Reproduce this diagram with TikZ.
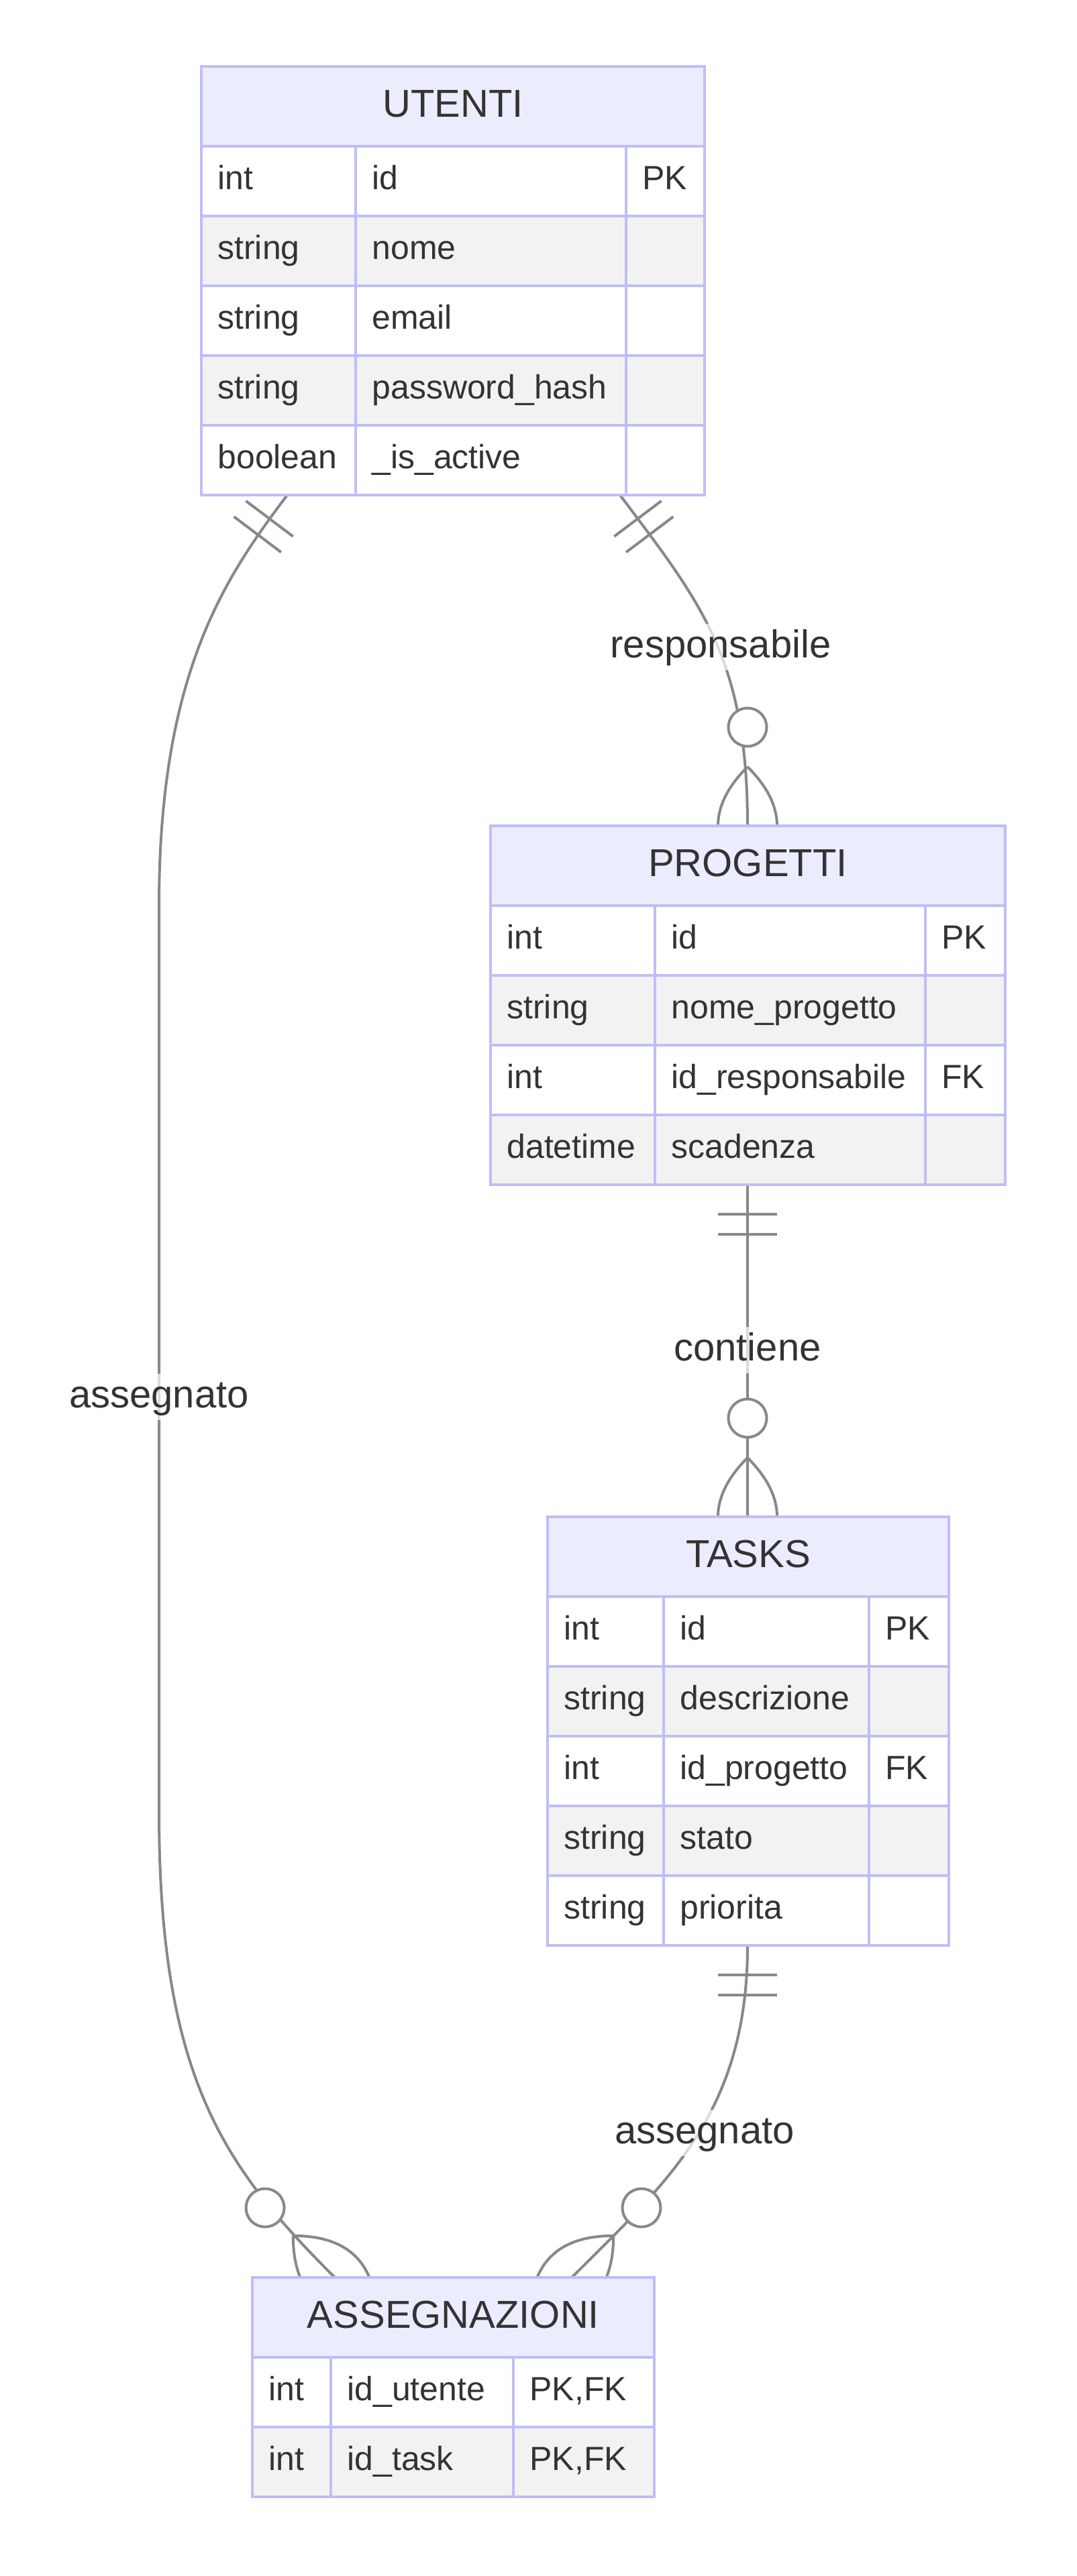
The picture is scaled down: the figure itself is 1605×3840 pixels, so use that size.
\documentclass[tikz,border=0pt]{standalone}
\usepackage{fontspec}
\setmainfont{Liberation Sans}
\usetikzlibrary{calc}

\definecolor{cbordo}{RGB}{190,190,246}
\definecolor{ctesta}{RGB}{236,236,255}
\definecolor{cpari}{RGB}{242,242,242}
\definecolor{clinea}{RGB}{136,136,136}
\definecolor{ctesto}{RGB}{51,51,51}

% 表格: 名字, x, y, 三列宽, 标题, 行
\newcommand{\tabella}[8]{%
  \pgfmathsetmacro{\xb}{#2+#4}
  \pgfmathsetmacro{\xc}{#2+#4+#5}
  \pgfmathsetmacro{\xd}{#2+#4+#5+#6}
  \filldraw[bordo, fill=ctesta] (#2,#3) rectangle (\xd,#3+119);
  \node[titolo] (#1) at ({(#2+\xd)/2},#3+75) {#7};
  \foreach \ti/\no/\ch [count=\i] in {#8} {
    \pgfmathsetmacro{\ry}{#3+119+(\i-1)*104}
    \ifodd\i \def\rf{white}\else\def\rf{cpari}\fi
    \fill[\rf] (#2,\ry) rectangle (\xd,\ry+104);
    \draw[bordo] (#2,\ry) rectangle (\xb,\ry+104)
                 (\xb,\ry) rectangle (\xc,\ry+104)
                 (\xc,\ry) rectangle (\xd,\ry+104);
    \node[campo] (#1-t\i) at (#2+24,\ry+64) {\ti};
    \node[campo] (#1-n\i) at (\xb+24,\ry+64) {\no};
    \node[campo] (#1-k\i) at (\xc+24,\ry+64) {\ch};
  }
}
% 一对一 (两条短线)
\newcommand{\unouno}[2]{%
  \begin{scope}[shift={(#1)}, rotate=#2]
    \draw[rel] (44,-44) -- (44,44) (73.5,-44) -- (73.5,44);
  \end{scope}}
% 零或多 (圆 + 鸦脚)
\newcommand{\zeropiu}[2]{%
  \begin{scope}[shift={(#1)}, rotate=#2]
    \draw[rel] (-88,0) .. controls (-29.3,-58.7) and (29.3,-58.7) .. (88,0)
               .. controls (29.3,58.7) and (-29.3,58.7) .. (-88,0);
    \filldraw[rel, fill=white] (-147,0) circle[radius=28.5];
  \end{scope}}

\begin{document}
\begin{tikzpicture}[x=0.5pt, y=-0.5pt,
    bordo/.style={draw=cbordo, line width=2pt},
    titolo/.style={anchor=base, inner sep=0, text=ctesto, font=\fontsize{29}{35}\selectfont},
    campo/.style={anchor=base west, inner sep=0, text=ctesto, font=\fontsize{25}{30}\selectfont},
    rel/.style={draw=clinea, line width=2pt},
    etichetta/.style={anchor=base, inner sep=0, fill=white, fill opacity=0.7, text opacity=1,
      text=ctesto, text height=25pt, text depth=9.5pt, font=\fontsize{29}{35}\selectfont}]
  \useasboundingbox (0,0) rectangle (1605,3840);

  % 定义端点
  \coordinate (U-r) at (924,738);
  \coordinate (U-a) at (428,738);
  \coordinate (P-r) at (1114,1231);
  \coordinate (P-c) at (1114,1766);
  \coordinate (T-c) at (1114,2261);
  \coordinate (T-a) at (1114,2900);
  \coordinate (A-u) at (499,3395);
  \coordinate (A-t) at (852,3395);

  % 关系线
  \draw[rel] (U-r) .. controls +(120,160) and +(0,-250) .. (P-r);
  \draw[rel] (P-c) -- (T-c);
  \draw[rel] (U-a) .. controls +(-90,120) and (237,1000) .. (237,1350)
             -- (237,2700) .. controls (237,3100) and (336,3232) .. (A-u);
  \draw[rel] (T-a) .. controls +(0,250) and +(141,-141) .. (A-t);

  % 标签
  \node[etichetta] (l-resp) at (1074,980) {responsabile};
  \node[etichetta] (l-cont) at (1114,2028) {contiene};
  \node[etichetta] (l-ass1) at (237,2098) {assegnato};
  \node[etichetta] (l-ass2) at (1050,3195) {assegnato};

  % 端点符号
  \unouno{U-r}{-53}
  \unouno{U-a}{-127}
  \unouno{P-c}{-90}
  \unouno{T-a}{-90}
  \zeropiu{P-r}{-90}
  \zeropiu{T-c}{-90}
  \zeropiu{A-u}{-45}
  \zeropiu{A-t}{-135}

  % 表格
  \tabella{utenti}{300}{99}{230}{403}{117}{UTENTI}%
    {int/id/PK, string/nome/{}, string/email/{}, string/password\_hash/{}, boolean/\_is\_active/{}}
  \tabella{progetti}{731}{1231}{245}{403}{119}{PROGETTI}%
    {int/id/PK, string/nome\_progetto/{}, int/id\_responsabile/FK, datetime/scadenza/{}}
  \tabella{tasks}{816}{2261}{173}{306}{119}{TASKS}%
    {int/id/PK, string/descrizione/{}, int/id\_progetto/FK, string/stato/{}, string/priorita/{}}
  \tabella{assegnazioni}{376}{3395}{117}{272}{210}{ASSEGNAZIONI}%
    {int/id\_utente/{PK,FK}, int/id\_task/{PK,FK}}
\end{tikzpicture}
\end{document}
